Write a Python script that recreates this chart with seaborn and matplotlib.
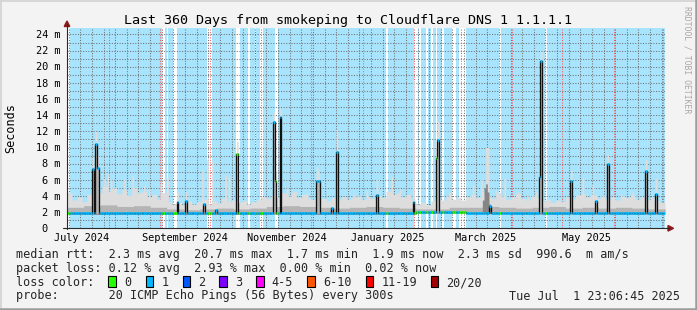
import numpy as np
import pandas as pd
import matplotlib
matplotlib.use("Agg")
import matplotlib.pyplot as plt
import matplotlib.dates as mdates
import matplotlib.transforms as mtrans
from matplotlib.patches import Rectangle, Polygon
from matplotlib.lines import Line2D
from matplotlib.ticker import MultipleLocator
import seaborn as sns

# ---------------- data ----------------
range_start = "2024-07-06 23:06:45"
range_end = "2025-07-01 23:06:45"
first_day = "2024-07-07"
n_days = 360

# median rtt baseline (ms), one value per 30-day block
median_base_30d = [1.85, 1.85, 1.85, 1.85, 1.9, 1.85, 1.85, 2.0, 1.95, 1.9, 1.9, 1.9]

# days where the median rtt rose (ms) and the top of the smoke on those days (ms)
spike_dates = ["2024-07-22", "2024-07-24", "2024-07-25", "2024-09-11", "2024-09-16",
               "2024-09-27", "2024-10-04", "2024-10-17", "2024-11-08", "2024-11-09",
               "2024-11-12", "2024-12-04", "2024-12-05", "2024-12-13", "2024-12-16",
               "2025-01-09", "2025-01-31", "2025-02-14", "2025-02-15", "2025-03-18",
               "2025-04-17", "2025-04-18", "2025-05-06", "2025-05-21", "2025-05-28",
               "2025-06-20", "2025-06-26"]
spike_median = [7.3, 10.4, 7.5, 3.3, 3.4, 3.0, 2.3, 9.25, 13.2, 5.9, 13.75, 5.9, 5.9, 2.5,
                9.5, 4.1, 3.3, 8.7, 10.9, 2.8, 6.4, 20.7, 5.8, 3.4, 7.9, 7.1, 4.3]
spike_smoke = [8.8, 12.0, 9.0, 4.5, 4.6, 3.6, 3.2, 10.8, 14.4, 7.0, 14.8, 7.6, 7.0, 3.2,
               12.2, 6.0, 18.2, 10.0, 13.2, 4.0, 7.0, 21.9, 7.2, 4.2, 9.1, 8.5, 6.2]

# periods with 0 packet loss (median drawn green, no loss background)
zero_loss_start = ["2024-07-07", "2024-09-02", "2024-09-05", "2024-09-09", "2024-09-29",
                   "2024-10-17", "2024-10-24", "2024-10-28", "2024-10-31", "2024-11-09",
                   "2025-01-15", "2025-02-01", "2025-02-04", "2025-02-08", "2025-02-11",
                   "2025-02-14", "2025-02-18", "2025-02-24", "2025-02-28", "2025-03-24",
                   "2025-04-21"]
zero_loss_end = ["2024-07-08", "2024-09-03", "2024-09-05", "2024-09-10", "2024-10-01",
                 "2024-10-18", "2024-10-24", "2024-10-28", "2024-11-01", "2024-11-10",
                 "2025-01-15", "2025-02-02", "2025-02-04", "2025-02-08", "2025-02-11",
                 "2025-02-14", "2025-02-18", "2025-02-25", "2025-03-03", "2025-03-24",
                 "2025-04-21"]

# top of the light smoke (ms), one value per 3-day block
smoke_top_3d = [4.4, 3.5, 3.9, 3.3, 4.2, 4.6, 4.4, 5.2, 4.6, 5.0,
                4.3, 4.8, 4.1, 5.0, 4.4, 4.6, 3.9, 4.2, 3.6, 4.4,
                3.3, 3.0, 3.2, 2.9, 3.4, 3.0, 3.3, 3.6, 3.0, 3.4,
                3.1, 3.7, 3.3, 3.5, 3.2, 3.4, 3.0, 3.3, 3.6, 3.9,
                3.7, 4.1, 3.8, 4.4, 4.0, 4.5, 3.8, 4.2, 3.7, 3.6,
                4.0, 3.7, 3.4, 3.8, 3.5, 3.9, 3.6, 3.8, 4.0, 3.6,
                3.9, 3.7, 4.1, 3.8, 4.6, 4.2, 4.4, 3.9, 4.2, 3.5,
                3.0, 3.2, 2.9, 3.4, 3.7, 3.5, 4.0, 3.6, 3.8, 3.5,
                3.9, 4.2, 3.8, 4.5, 4.0, 3.7, 4.4, 4.0, 3.6, 3.9,
                4.3, 3.7, 3.5, 4.0, 3.8, 3.4, 3.6, 3.2, 3.5, 3.3,
                3.9, 3.6, 4.1, 4.3, 3.9, 4.1, 3.7, 4.0, 3.6, 3.9,
                3.5, 4.0, 3.8, 4.1, 3.6, 3.9, 3.5, 3.8, 3.4, 3.2]
# single days with taller smoke (ms)
smoke_peak_dates = ["2024-07-07", "2024-07-29", "2024-07-31", "2024-08-02", "2024-08-10",
                    "2024-08-15", "2024-08-22", "2024-08-25", "2024-09-01", "2024-09-05",
                    "2024-09-26", "2024-09-29", "2024-10-02", "2024-10-10", "2024-10-12",
                    "2024-11-16", "2024-11-21", "2024-11-28", "2024-12-26", "2025-01-03",
                    "2025-01-18", "2025-01-23", "2025-02-22", "2025-03-08", "2025-03-13",
                    "2025-03-16", "2025-03-17", "2025-03-22", "2025-03-27", "2025-04-04",
                    "2025-04-10", "2025-04-15", "2025-05-13", "2025-05-19", "2025-06-05",
                    "2025-06-12"]
smoke_peak_top = [4.5, 6.2, 6.8, 6.0, 6.1, 6.5, 5.2, 4.9, 5.6, 6.3, 7.2, 8.5, 8.3, 6.6, 6.5,
                  5.0, 4.6, 4.4, 4.2, 4.7, 6.4, 4.9, 4.5, 5.4, 6.0, 10.0, 10.0, 4.7, 6.2,
                  4.5, 4.0, 4.5, 6.2, 5.4, 4.2, 4.5]
# top of the denser inner smoke (ms), one value per 10-day block
smoke_mid_10d = [2.6, 2.8, 2.9, 2.7, 2.8, 2.6, 2.4, 2.3, 2.4, 2.5, 2.4, 2.5,
                 2.7, 2.8, 2.7, 2.6, 2.5, 2.6, 2.7, 2.6, 2.5, 2.4, 2.4, 2.6,
                 2.6, 2.7, 2.6, 2.5, 2.6, 2.7, 2.5, 2.6, 2.5, 2.6, 2.5, 2.4]
# days with dark smoke (ms)
dark_smoke_dates = ["2025-03-14", "2025-03-15", "2025-03-16", "2025-03-17", "2025-03-18"]
dark_smoke_top = [3.5, 5.0, 5.5, 4.5, 3.0]

ytick_values = [0, 2, 4, 6, 8, 10, 12, 14, 16, 18, 20, 22, 24]
ytick_labels = ["0", "2 m", "4 m", "6 m", "8 m", "10 m", "12 m", "14 m", "16 m",
                "18 m", "20 m", "22 m", "24 m"]
xlabel_months = ["2024-07-01", "2024-09-01", "2024-11-01", "2025-01-01", "2025-03-01",
                 "2025-05-01"]
xlabel_texts = ["July 2024", "September 2024", "November 2024", "January 2025",
                "March 2025", "May 2025"]

title = "Last 360 Days from smokeping to Cloudflare DNS 1 1.1.1.1"
y_title = "Seconds"
line_median = "median rtt:  2.3 ms avg  20.7 ms max  1.7 ms min  1.9 ms now  2.3 ms sd  990.6  m am/s"
line_loss = "packet loss: 0.12 % avg  2.93 % max  0.00 % min  0.02 % now"
line_color = "loss color:"
line_probe = "probe:       20 ICMP Echo Pings (56 Bytes) every 300s"
line_date = "Tue Jul  1 23:06:45 2025"
watermark = "RRDTOOL / TOBI OETIKER"
loss_labels = ["0", "1", "2", "3", "4-5", "6-10", "11-19", "20/20"]
loss_colors = ["#26ff00", "#00b8ff", "#0059ff", "#7e00ff", "#ff00ff", "#ff5500",
               "#ff0000", "#a10000"]

# ---------------- derived series ----------------
days = pd.date_range(first_day, periods=n_days, freq="D")
edges = pd.date_range(first_day, periods=n_days + 1, freq="D")
idx = np.arange(n_days)

median = np.array(median_base_30d, float)[idx // 30]
base = median.copy()
smoke_hi = np.array(smoke_top_3d, float)[idx // 3]
smoke_mid = np.array(smoke_mid_10d, float)[idx // 10]
for d, v in zip(smoke_peak_dates, smoke_peak_top):
    i = days.get_loc(pd.Timestamp(d))
    smoke_hi[i] = max(smoke_hi[i], v)
for d, m, s in zip(spike_dates, spike_median, spike_smoke):
    i = days.get_loc(pd.Timestamp(d))
    median[i] = m
    smoke_hi[i] = max(smoke_hi[i], s)
    smoke_mid[i] = max(smoke_mid[i], m)   # pings are dense around a raised median
smoke_lo = base - 0.12
smoke_mid = np.minimum(smoke_mid, smoke_hi)
dark_hi = base.copy()
for d, v in zip(dark_smoke_dates, dark_smoke_top):
    dark_hi[days.get_loc(pd.Timestamp(d))] = v

loss = np.ones(n_days, int)
for s, e in zip(zero_loss_start, zero_loss_end):
    loss[(days >= pd.Timestamp(s)) & (days <= pd.Timestamp(e))] = 0

# ---------------- figure ----------------
sns.set_theme(style="white")
plt.rcParams["font.family"] = ["DejaVu Sans Mono", "DejaVu Sans"]

W, H = 697, 310
def fx(x):
    return x / W
def fy(y):
    return 1 - y / H

fig = plt.figure(figsize=(W / 100, H / 100), dpi=100, facecolor="#f3f3f3")
ax = fig.add_axes([fx(67), fy(228.3), 598 / W, 200.3 / H])
ax.set_facecolor("white")
for sp in ax.spines.values():
    sp.set_visible(False)

x0 = pd.Timestamp(range_start)
x1 = pd.Timestamp(range_end)
ax.set_xlim(x0, x1)
ax.set_ylim(0, 24.8)

# background where some loss occurred
up = loss > 0
i = 0
while i < n_days:
    if up[i]:
        j = i
        while j + 1 < n_days and up[j + 1]:
            j += 1
        ax.axvspan(edges[i], edges[j + 1], color="#a8e4fd", lw=0, zorder=0.2)
        i = j + 1
    else:
        i += 1

# grid
ax.xaxis.set_major_locator(mdates.MonthLocator())
ax.xaxis.set_minor_locator(mdates.WeekdayLocator(byweekday=mdates.MO))
ax.yaxis.set_major_locator(MultipleLocator(2))
ax.yaxis.set_minor_locator(MultipleLocator(1))
ax.set_axisbelow(True)
ax.xaxis.grid(True, which="minor", color=(0.45, 0.45, 0.45, 0.28), ls=(0, (1.0, 1.5)), lw=0.75)
ax.yaxis.grid(True, which="both", color=(0.45, 0.45, 0.45, 0.3), ls=(0, (1.0, 1.5)), lw=0.75)
ax.xaxis.grid(True, which="major", color=(1.0, 0.35, 0.35, 0.45), ls=(0, (1.0, 1.5)), lw=0.75)
ax.tick_params(which="both", labelbottom=False, labelleft=False)
ax.tick_params(which="major", direction="inout", length=4, width=0.7, color="#ff7070")
ax.tick_params(which="minor", direction="inout", length=2, width=0.7, color="#b0b0b0")

# smoke
ext = lambda a: np.append(a, a[-1])
ax.fill_between(edges, ext(smoke_lo), ext(smoke_hi), step="post", color="#dddddd",
                lw=0, zorder=2)
ax.fill_between(edges, ext(smoke_lo), ext(smoke_mid), step="post", color="#b4b4b4",
                lw=0, zorder=2.1)
ax.fill_between(edges, ext(smoke_lo), ext(dark_hi), step="post", color="#858585",
                lw=0, zorder=2.2)

# median line
sns.lineplot(x=edges, y=ext(median), drawstyle="steps-post", color="#111111", lw=0.95,
             ax=ax, zorder=3, estimator=None, sort=False)
ax.hlines(median, mdates.date2num(edges[:-1]), mdates.date2num(edges[1:]),
          colors=[loss_colors[l] for l in loss], lw=2.0, zorder=4)
ax.set_xlabel("")
ax.set_ylabel("")

# y tick labels
ylab_tr = mtrans.offset_copy(mtrans.blended_transform_factory(fig.transFigure, ax.transData),
                             fig=fig, x=0, y=-3.7, units="dots")
for v, s in zip(ytick_values, ytick_labels):
    xr = 60 if v != 0 else 47
    ax.text(fx(xr), v, s, transform=ylab_tr, ha="right", va="baseline", fontsize=7.4,
            color="black", clip_on=False)

# x labels (centered half a month after month start)
xlab_tr = mtrans.blended_transform_factory(ax.transData, fig.transFigure)
for m, s in zip(xlabel_months, xlabel_texts):
    xc = pd.Timestamp(m) + pd.Timedelta(days=15)
    ax.text(xc, fy(241), s, transform=xlab_tr, ha="center", va="baseline", fontsize=7.4,
            color="black", clip_on=False)

# axes lines and arrows
axis_col = "#2a2a2a"
fig.add_artist(Line2D([fx(67), fx(67)], [fy(229), fy(24)], color=axis_col, lw=0.8,
                      transform=fig.transFigure))
fig.add_artist(Line2D([fx(63), fx(669)], [fy(228.3), fy(228.3)], color=axis_col, lw=0.8,
                      transform=fig.transFigure))
fig.add_artist(Polygon([[fx(64.2), fy(26.5)], [fx(69.8), fy(26.5)], [fx(67), fy(21)]],
                       closed=True, color="#8b1a1a", transform=fig.transFigure))
fig.add_artist(Polygon([[fx(668), fy(225.5)], [fx(668), fy(231.1)], [fx(673.5), fy(228.3)]],
                       closed=True, color="#8b1a1a", transform=fig.transFigure))

# texts
fig.text(0.5, fy(24), title, ha="center", va="baseline", fontsize=9.6, color="black")
fig.text(fx(11), fy(128), y_title, rotation=90, ha="center", va="center", fontsize=8.5,
         color="black")
fig.text(fx(687.5), fy(60), watermark, rotation=270, ha="center", va="center",
         fontsize=5.9, color="#a8a8a8")
fig.text(fx(16), fy(258.3), line_median, ha="left", va="baseline", fontsize=8.5)
fig.text(fx(16), fy(272), line_loss, ha="left", va="baseline", fontsize=8.5)
fig.text(fx(16), fy(286), line_color, ha="left", va="baseline", fontsize=8.5)
fig.text(fx(16), fy(299.5), line_probe, ha="left", va="baseline", fontsize=8.5)
fig.text(fx(680), fy(299.5), line_date, ha="right", va="baseline", fontsize=8.5)

box_x = [108.3, 145.7, 182.7, 219.3, 256.0, 307.3, 365.7, 430.7]
for bx, lab, col in zip(box_x, loss_labels, loss_colors):
    fig.add_artist(Rectangle((fx(bx), fy(287.3)), 7.6 / W, 11.0 / H, facecolor=col,
                             edgecolor="black", lw=0.8, transform=fig.transFigure))
    fig.text(fx(bx + 15.7), fy(286), lab, ha="left", va="baseline", fontsize=8.5)

# frame shading
fig.add_artist(Line2D([0, 1], [fy(0.5), fy(0.5)], color="#d2d2d2", lw=1.2,
                      transform=fig.transFigure))
fig.add_artist(Line2D([fx(0.5), fx(0.5)], [0, 1], color="#d2d2d2", lw=1.2,
                      transform=fig.transFigure))
fig.add_artist(Line2D([0, 1], [fy(309), fy(309)], color="#9c9c9c", lw=1.8,
                      transform=fig.transFigure))
fig.add_artist(Line2D([fx(696), fx(696)], [0, 1], color="#9c9c9c", lw=1.8,
                      transform=fig.transFigure))

fig.savefig("out.png", dpi=100, facecolor=fig.get_facecolor())
